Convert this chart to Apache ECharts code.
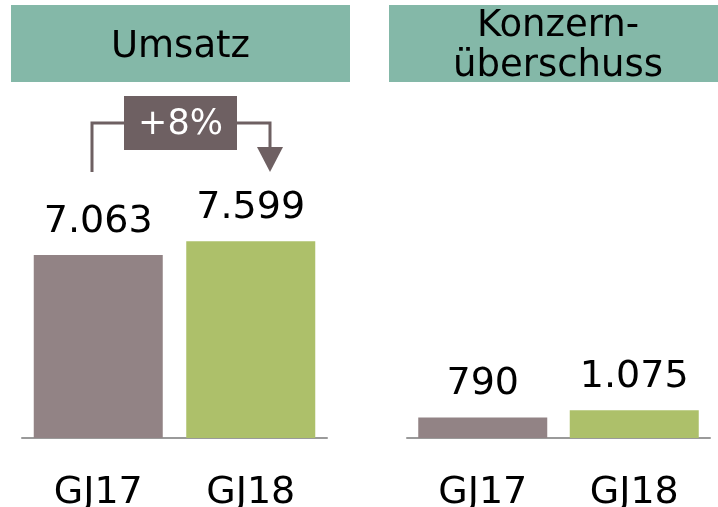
<!DOCTYPE html>
<html>
<head>
<meta charset="utf-8">
<script src="https://cdn.jsdelivr.net/npm/echarts@6/dist/echarts.min.js"></script>
<style>html,body{margin:0;padding:0;background:#fff;}#c{width:718px;height:507px;}</style>
</head>
<body>
<div id="c"></div>
<script>
const categories = ['GJ17', 'GJ18'];
const umsatz = [7063, 7599];
const konzernueberschuss = [790, 1075];
const barColors = ['#928385', '#adc06a'];
const panelTitles = ['Umsatz', 'Konzern-\nüberschuss'];
const growthLabel = '+8%';

const FONT = 'DejaVu Sans';
const fmt = v => String(v).replace(/\B(?=(\d{3})+(?!\d))/g, '.');

const chart = echarts.init(document.getElementById('c'));

function xAx(gi) {
  return {
    type: 'category', gridIndex: gi, data: categories,
    axisLine: { show: true, lineStyle: { color: '#9a9a9a', width: 2 } },
    axisTick: { show: false },
    axisLabel: { color: '#000', fontSize: 38, fontFamily: FONT, margin: 36 }
  };
}
function yAx(gi) {
  return { type: 'value', gridIndex: gi, min: 0, max: 10000, show: false, splitLine: { show: false } };
}
function barSeries(gi, vals) {
  return {
    type: 'bar', xAxisIndex: gi, yAxisIndex: gi, barWidth: 129,
    data: vals.map((v, i) => ({ value: v, itemStyle: { color: barColors[i] } })),
    label: {
      show: true, position: 'top', distance: 14, color: '#000', fontSize: 38, fontFamily: FONT,
      formatter: p => fmt(p.value)
    },
    animation: false
  };
}

const ann = '#6e6062';
chart.setOption({
  animation: false,
  grid: [
    { left: 22, width: 305, top: 179, bottom: 69, containLabel: false, outerBoundsMode: 'none' },
    { left: 407, width: 303, top: 179, bottom: 69, containLabel: false, outerBoundsMode: 'none' }
  ],
  xAxis: [xAx(0), xAx(1)],
  yAxis: [yAx(0), yAx(1)],
  series: [barSeries(0, umsatz), barSeries(1, konzernueberschuss)],
  graphic: [
    { type: 'rect', shape: { x: 11, y: 5, width: 339, height: 77 }, style: { fill: '#84b8a8' } },
    { type: 'rect', shape: { x: 389, y: 5, width: 335, height: 77 }, style: { fill: '#84b8a8' } },
    { type: 'text', x: 180.5, y: 47, style: { text: panelTitles[0], fill: '#000', font: '37px "DejaVu Sans"', align: 'center', verticalAlign: 'middle' } },
    { type: 'text', x: 558, y: 46, style: { text: panelTitles[1], fill: '#000', font: '37px "DejaVu Sans"', lineHeight: 40, align: 'center', verticalAlign: 'middle' } },
    { type: 'polyline', shape: { points: [[92, 172], [92, 123], [124, 123]] }, style: { stroke: ann, lineWidth: 3, fill: null } },
    { type: 'polyline', shape: { points: [[237, 123], [270, 123], [270, 150]] }, style: { stroke: ann, lineWidth: 3, fill: null } },
    { type: 'polygon', shape: { points: [[257, 147], [283, 147], [270, 172]] }, style: { fill: ann } },
    { type: 'rect', shape: { x: 124, y: 96, width: 113, height: 54 }, style: { fill: ann } },
    { type: 'text', x: 180.5, y: 125, style: { text: growthLabel, fill: '#fff', font: '35px "DejaVu Sans"', align: 'center', verticalAlign: 'middle' } }
  ]
});
</script>
</body>
</html>
